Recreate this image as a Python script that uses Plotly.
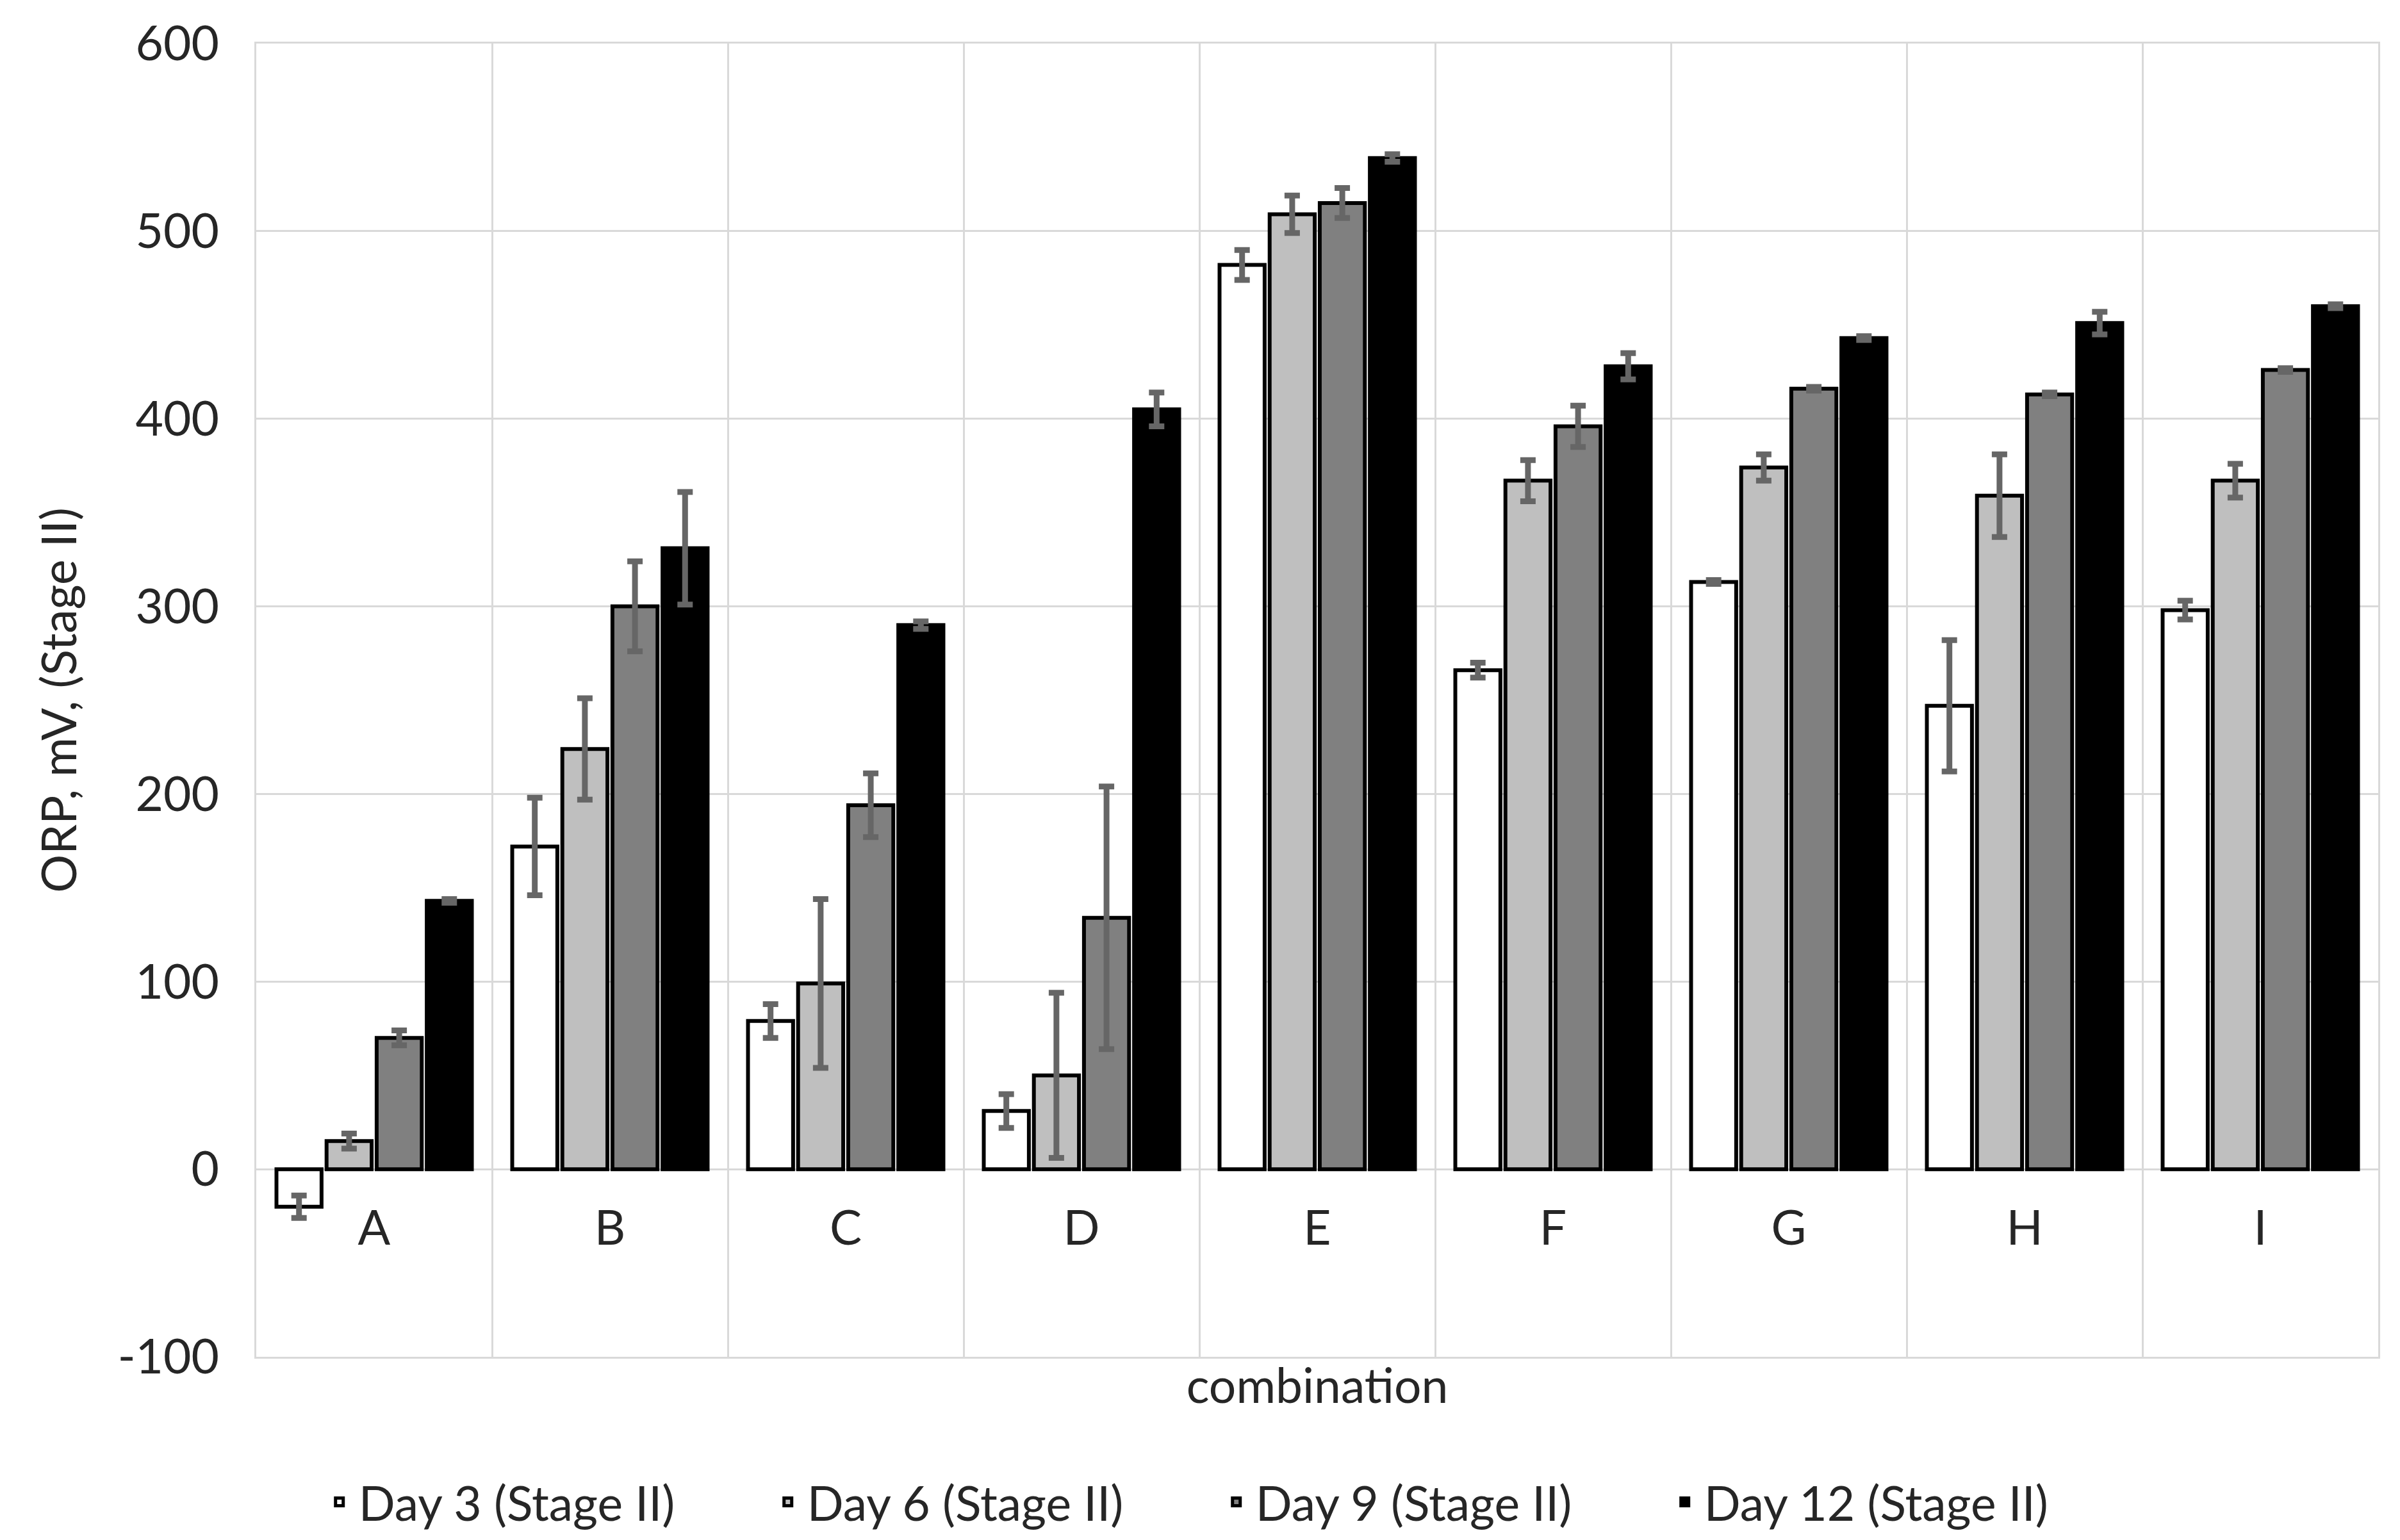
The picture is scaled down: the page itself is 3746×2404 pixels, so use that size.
import plotly.graph_objects as go

categories = ["A", "B", "C", "D", "E", "F", "G", "H", "I"]
series_names = ["Day 3 (Stage II)", "Day 6 (Stage II)", "Day 9 (Stage II)", "Day 12 (Stage II)"]

day3 = [-20, 172, 79, 31, 482, 266, 313, 247, 298]
day6 = [15, 224, 99, 50, 509, 367, 374, 359, 367]
day9 = [70, 300, 194, 134, 515, 396, 416, 413, 426]
day12 = [143, 331, 290, 405, 539, 428, 443, 451, 460]

err3 = [6, 26, 9, 9, 8, 4, 1, 35, 5]
err6 = [4, 27, 45, 44, 10, 11, 7, 22, 9]
err9 = [4, 24, 17, 70, 8, 11, 1, 1, 1]
err12 = [1, 30, 2, 9, 2, 7, 1, 6, 1]

y_tick_values = [-100, 0, 100, 200, 300, 400, 500, 600]
y_tick_labels = ["-100", "0", "100", "200", "300", "400", "500", "600"]

fills = ["#ffffff", "#bfbfbf", "#808080", "#000000"]
y_min, y_max = -100, 600

FONT = "Lato"
FS = 75
TXT = "#262626"
GRID = "#d9d9d9"

fig = go.Figure()
for name, vals, errs, col in zip(series_names, [day3, day6, day9, day12],
                                 [err3, err6, err9, err12], fills):
    fig.add_trace(go.Bar(
        x=categories, y=vals, name=name,
        marker=dict(color=col, line=dict(color="#000000", width=6)),
        error_y=dict(type="data", array=errs, visible=True,
                     color="#666666", thickness=9, width=12),
    ))

zero_pos = (0 - y_min) / (y_max - y_min)

fig.update_layout(
    width=3746, height=2404,
    paper_bgcolor="white", plot_bgcolor="white",
    margin=dict(l=392, r=42, t=54, b=294),
    barmode="group", bargap=0.15, bargroupgap=0.1,
    font=dict(family=FONT, size=FS, color=TXT),
    xaxis=dict(
        type="category", categoryorder="array", categoryarray=categories,
        tickson="boundaries", showgrid=True, gridcolor=GRID, gridwidth=3,
        showticklabels=False, ticks="",
        showline=True, linecolor=GRID, linewidth=3, mirror=True,
        title=dict(text="combination", standoff=18, font=dict(size=FS)),
    ),
    xaxis2=dict(
        overlaying="x", anchor="free", position=zero_pos,
        range=[-0.5, len(categories) - 0.5],
        tickmode="array", tickvals=list(range(len(categories))), ticktext=categories,
        showgrid=False, showline=False, zeroline=False, ticks="",
        ticklabelstandoff=42, tickfont=dict(size=FS),
    ),
    yaxis=dict(
        range=[y_min, y_max], tickmode="array",
        tickvals=y_tick_values, ticktext=y_tick_labels,
        showgrid=True, gridcolor=GRID, gridwidth=3,
        zeroline=True, zerolinecolor=GRID, zerolinewidth=3,
        showline=True, linecolor=GRID, linewidth=3, mirror=True,
        ticks="", ticklabelstandoff=40, tickfont=dict(size=FS),
        title=dict(text="ORP, mV, (Stage II)", standoff=40, font=dict(size=FS)),
    ),
    legend=dict(
        orientation="h", xref="container", yref="container",
        x=0.505, xanchor="center", y=0.028, yanchor="middle",
        font=dict(size=FS), entrywidth=635, itemwidth=50,
        traceorder="normal",
    ),
)

# invisible helper trace so xaxis2 is rendered
fig.add_trace(go.Scatter(x=[0], y=[0], xaxis="x2", mode="markers",
                         marker=dict(opacity=0), showlegend=False, hoverinfo="skip"))

fig.write_html("out.html")
